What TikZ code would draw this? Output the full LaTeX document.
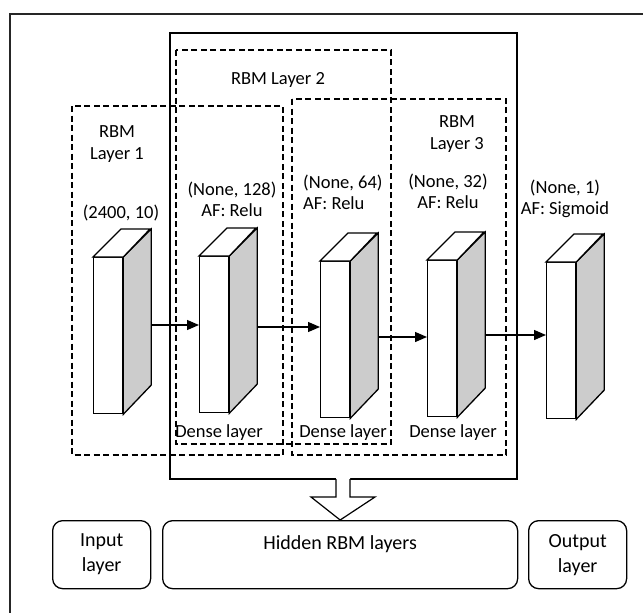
\documentclass[tikz,border=0pt]{standalone}
\usepackage{fontspec}
\setmainfont{Carlito}
\usetikzlibrary{arrows.meta,calc}
\begin{document}
\begin{tikzpicture}[x=1pt,y=-1pt,
  frame/.style={draw=black!85,line width=1.3pt},
  solidbox/.style={draw=black,line width=1.3pt},
  dashbox/.style={draw=black,line width=1.2pt,dash pattern=on 6pt off 3.5pt},
  front/.style={draw=black,line width=1.3pt,fill=white,minimum width=29pt,inner sep=0pt,anchor=north west},
  side/.style={draw=black,line width=1.3pt,fill=black!20,line join=miter},
  topf/.style={draw=black,line width=1.3pt,fill=white},
  conn/.style={draw=black,line width=1.3pt,-{Triangle[length=12pt,width=10pt]}},
  lbl/.style={font=\fontsize{18.5}{21}\selectfont,align=center,inner sep=0pt},
  blbl/.style={font=\fontsize{20}{25}\selectfont,align=center,inner sep=0pt},
  layerbox/.style={draw=black,line width=1.3pt,rounded corners=10pt}]
\useasboundingbox (0,0) rectangle (643,613);
% outer frame (only top and left visible)
\draw[frame] (10,613) -- (10,14) -- (643,14);
% hidden layers frame
\draw[solidbox] (170,33) rectangle (517,479);
% dashed RBM groups
\draw[dashbox] (72,106) rectangle (283,455);
\draw[dashbox] (176,50) rectangle (391,444);
\draw[dashbox] (292,99) rectangle (506,455);
% labels
\node[lbl] (l2) at (278,80) {RBM Layer 2};
\node[lbl] (l1) at (117,144) {RBM\\[1pt]Layer 1};
\node[lbl] (l3) at (457,134) {RBM\\[1pt]Layer 3};
\node[lbl] (t1) at (121,213) {(2400, 10)};
\node[lbl] (t2) at (232,199) {(None, 128)\\AF: Relu};
\node[lbl,align=left,anchor=west] (t3) at (303,192) {(None, 64)\\AF: Relu};
\node[lbl] (t4) at (448,191) {(None, 32)\\AF: Relu};
\node[lbl] (t5) at (565,199) {(None, 1)\\AF: Sigmoid};
% cuboids
\newcommand{\cuboid}[5]{% name, x, ytop, ybottom, unused
  \node[front,minimum height={#4-#3}] (#1) at (#2,#3) {};
  \draw[side] (#1.north east) -- ++(28,-28) -- ++(0,{#4-#3}) -- (#1.south east) -- cycle;
  \draw[topf] (#1.north west) -- ++(28,-28) -- ++(29,0) -- (#1.north east) -- cycle;
  \coordinate (#1s) at ($(#1.north east)+(28,-28)$);
}
\cuboid{b1}{93}{257}{413}{}
\cuboid{b2}{199}{256}{412}{}
\cuboid{b3}{320}{261}{417}{}
\cuboid{b4}{427}{260}{416}{}
\cuboid{b5}{546}{262}{418}{}
% connectors
\coordinate (a1) at (b1s |- 0,325);
\coordinate (a2) at (b2s |- 0,327);
\coordinate (a3) at (b3s |- 0,337);
\coordinate (a4) at (b4s |- 0,335);
\draw[conn] (a1) -- (a1 -| b2.west);
\draw[conn] (a2) -- (a2 -| b3.west);
\draw[conn] (a3) -- (a3 -| b4.west);
\draw[conn] (a4) -- (a4 -| b5.west);
% dense labels
\node[lbl] (d2) at (219,433) {Dense layer};
\node[lbl] (d3) at (343,433) {Dense layer};
\node[lbl] (d4) at (453,433) {Dense layer};
% bottom boxes
\node[layerbox,minimum width=98pt,minimum height=68pt,anchor=north west] (inp) at (52,520) {};
\node[blbl] at (inp.center) {Input\\layer};
\node[layerbox,minimum width=355pt,minimum height=68pt,anchor=north west] (hid) at (162,520) {};
\node[blbl] at ($(hid.north)+(0,24)$) {Hidden RBM layers};
\node[layerbox,minimum width=98pt,minimum height=68pt,anchor=north west] (outl) at (528,520) {};
\node[blbl] at (outl.center) {Output\\layer};
% big hollow arrow
\fill[white] (336,476) -- (336,497) -- (311,497) -- (hid.north) -- (375,497) -- (350,497) -- (350,476) -- cycle;
\draw[line width=1.2pt,line join=miter] (336,479) -- (336,497) -- (311,497) -- (hid.north) -- (375,497) -- (350,497) -- (350,479);
\end{tikzpicture}
\end{document}
